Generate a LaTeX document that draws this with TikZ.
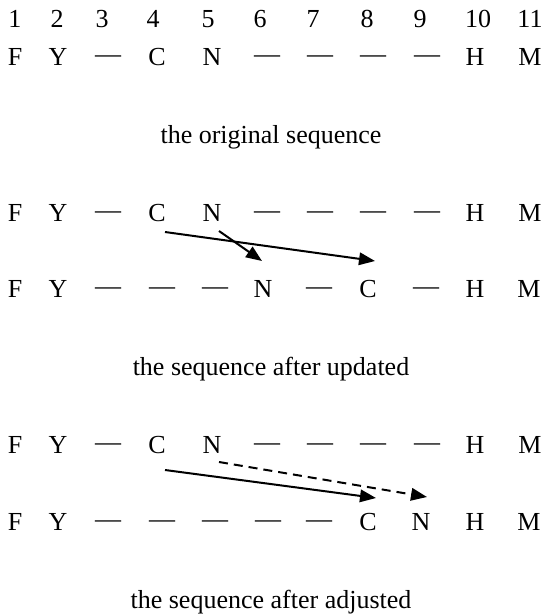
\documentclass[tikz,border=0pt]{standalone}
\usepackage{fontspec}
\setmainfont{Liberation Serif}
\usetikzlibrary{arrows.meta}
% an empty position, drawn as a raised em dash
\newcommand{\gapmark}{\raisebox{3pt}{—}}
\begin{document}
\begin{tikzpicture}[x=1pt,y=-1pt,
  glyph/.style={inner sep=0pt,anchor=base,font=\fontsize{26}{31}\selectfont},
  caption/.style={inner sep=0pt,anchor=base,font=\fontsize{26}{31}\selectfont},
  move/.style={line width=2pt,-{Triangle[length=16pt,width=12.5pt]}},
  movedash/.style={move,dash pattern=on 9pt off 6pt}]
\useasboundingbox (0,0) rectangle (542,616);

% position numbers
\foreach \x/\t [count=\i] in {15/1,57/2,102/3,153/4,208/5,260/6,313/7,367/8,420/9,478/10,530/11}
  \node[glyph] (num-\i) at (\x,27) {\t};

% original sequence
\foreach \x/\t [count=\i] in {15/F,58/Y,108/\gapmark,157/C,212/N,267/\gapmark,320/\gapmark,373/\gapmark,427/\gapmark,475/H,530/M}
  \node[glyph] (a-\i) at (\x,65) {\t};
\node[caption] (capa) at (271,143) {the original sequence};

% update step
\foreach \x/\t [count=\i] in {15/F,58/Y,108/\gapmark,157/C,212/N,267/\gapmark,320/\gapmark,373/\gapmark,427/\gapmark,475/H,530/M}
  \node[glyph] (b-\i) at (\x,221) {\t};
\foreach \x/\t [count=\i] in {15/F,58/Y,108/\gapmark,162/\gapmark,215/\gapmark,263/N,319/\gapmark,368/C,426/\gapmark,475/H,529/M}
  \node[glyph] (bb-\i) at (\x,297) {\t};
\draw[move] ([shift={(8,11)}]b-4.base) -- ([shift={(7,-36)}]bb-8.base);
\draw[move] ([shift={(7,10)}]b-5.base) -- ([shift={(-1,-36)}]bb-6.base);
\node[caption] (capb) at (271,375) {the sequence after updated};

% adjust step
\foreach \x/\t [count=\i] in {15/F,58/Y,108/\gapmark,157/C,212/N,267/\gapmark,320/\gapmark,373/\gapmark,427/\gapmark,475/H,530/M}
  \node[glyph] (c-\i) at (\x,453) {\t};
\foreach \x/\t [count=\i] in {15/F,58/Y,108/\gapmark,162/\gapmark,215/\gapmark,268/\gapmark,319/\gapmark,368/C,421/N,475/H,529/M}
  \node[glyph] (cc-\i) at (\x,530) {\t};
\draw[move] ([shift={(8,17)}]c-4.base) -- ([shift={(8,-32)}]cc-8.base);
\draw[movedash] ([shift={(7,9)}]c-5.base) -- ([shift={(6,-33)}]cc-9.base);
\node[caption] (capc) at (271,608) {the sequence after adjusted};
\end{tikzpicture}
\end{document}
